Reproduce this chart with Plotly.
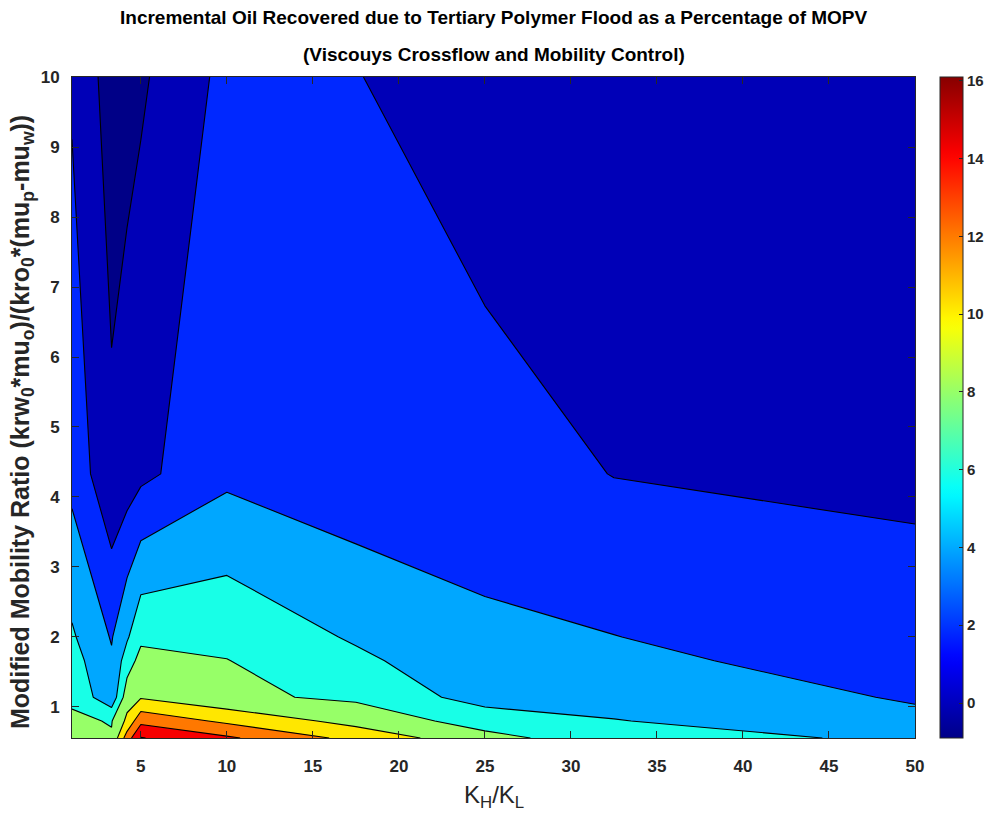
import plotly.graph_objects as go

# Grid columns: permeability contrast K_H/K_L
perm_ratio = [1, 3.3, 4.2, 5, 10, 17.5, 25, 32.5, 50]
# Grid rows: modified mobility ratio
mobility_ratio = [0.557, 0.8, 1.14, 1.66, 2.0, 4.33, 10]

# Incremental oil recovered (% of MOPV), one list per mobility-ratio row
recovery_m0557 = [8.5, 8.17, 13.0, 16.1, 14.3, 11.4, 8.6, 6.9, 5.6]
recovery_m0800 = [8.3, 7.9, 10.45, 13.45, 11.6, 9.31, 7.17, 6.1, 4.35]
recovery_m1140 = [7.7, 4.53, 9.15, 9.8, 8.4, 7.64, 5.17, 5.0, 3.85]
recovery_m1660 = [6.8, 4.26, 7.0, 8.7, 8.05, 6.4, 4.6, 4.4, 3.2]
recovery_m2000 = [6.25, 3.86, 5.76, 7.56, 7.48, 5.77, 4.35, 4.03, 2.9]
recovery_m4330 = [3.39, 0.42, 0.9, 1.53, 3.56, 2.67, 2.94, 1.95, 1.6]
recovery_m1000 = [1.74, -0.9, -0.55, -0.29, 2.57, 2.08, 0.72, 0.8, 1.0]

x_ticks = [5, 10, 15, 20, 25, 30, 35, 40, 45, 50]
y_ticks = [1, 2, 3, 4, 5, 6, 7, 8, 9, 10]
cbar_ticks = [0, 2, 4, 6, 8, 10, 12, 14, 16]

level_start, level_end, level_step = 0, 16, 2

recovery = [recovery_m0557, recovery_m0800, recovery_m1140, recovery_m1660,
            recovery_m2000, recovery_m4330, recovery_m1000]
zmin = min(min(r) for r in recovery)
zmax = max(max(r) for r in recovery)


def jet(n):
    """MATLAB-style jet colormap with n entries, as (r, g, b) in 0..255."""
    out = []
    for i in range(n):
        t = (i + 0.5) / n
        r = min(max(min(4 * t - 1.5, -4 * t + 4.5), 0), 1)
        g = min(max(min(4 * t - 0.5, -4 * t + 3.5), 0), 1)
        b = min(max(min(4 * t + 0.5, -4 * t + 2.5), 0), 1)
        out.append((round(r * 255), round(g * 255), round(b * 255)))
    return out


JET = jet(64)


def rgb(c):
    return "rgb(%d,%d,%d)" % c


# continuous colour bar
jet_scale = [[i / 63, rgb(c)] for i, c in enumerate(JET)]

# each filled band takes the colormap entry of its lower bound
levels = list(range(level_start, level_end + 1, level_step))
band_floor = [zmin] + levels


def cmap_index(v):
    k = int((v - zmin) / (zmax - zmin) * 64)
    return min(max(k, 0), 63)


band_colors = [JET[cmap_index(v)] for v in band_floor]
nb = len(band_colors) - 1
band_scale = [[k / nb, rgb(c)] for k, c in enumerate(band_colors)]

AX_COLOR = "#262626"
NARROW = "Liberation Sans Narrow, Arial Narrow, Liberation Sans, Arial, sans-serif"
REGULAR = "Liberation Sans, Arial, sans-serif"

fig = go.Figure()

fig.add_trace(go.Contour(
    x=perm_ratio,
    y=mobility_ratio,
    z=recovery,
    autocontour=False,
    contours=dict(start=level_start, end=level_end, size=level_step,
                  coloring="fill", showlines=True),
    line=dict(color="black", width=1.1, smoothing=0),
    colorscale=band_scale,
    showscale=False,
    hoverinfo="skip",
))

# invisible carrier for the continuous colour bar
fig.add_trace(go.Scatter(
    x=[perm_ratio[0], perm_ratio[0]],
    y=[mobility_ratio[0], mobility_ratio[0]],
    mode="markers",
    marker=dict(size=0, opacity=0, color=[zmin, zmax], colorscale=jet_scale,
                cmin=zmin, cmax=zmax, showscale=True,
                colorbar=dict(
                    x=1.0297, xanchor="left", xpad=0, ypad=0,
                    y=0.5, yanchor="middle",
                    len=1, lenmode="fraction", thickness=23,
                    outlinewidth=1, outlinecolor=AX_COLOR,
                    tickvals=cbar_ticks, ticks="inside", ticklen=4,
                    tickcolor=AX_COLOR,
                    tickfont=dict(family=REGULAR, size=15, color=AX_COLOR,
                                  weight="bold"),
                )),
    hoverinfo="skip",
    showlegend=False,
))

axis_common = dict(
    showgrid=False, zeroline=False, showline=True, linecolor=AX_COLOR,
    linewidth=1, mirror="allticks", ticks="inside", ticklen=7,
    tickcolor=AX_COLOR,
    tickfont=dict(family=REGULAR, size=17, color=AX_COLOR, weight="bold"),
)

fig.update_layout(
    width=991, height=821,
    margin=dict(l=72, r=76, t=77, b=83, autoexpand=False),
    paper_bgcolor="white", plot_bgcolor="white",
    xaxis=dict(range=[1, 50], tickvals=x_ticks, ticklabelstandoff=13,
               **axis_common),
    yaxis=dict(range=[mobility_ratio[0], 10], tickvals=y_ticks,
               ticklabelstandoff=8, **axis_common),
    annotations=[
        dict(text="Incremental Oil Recovered due to Tertiary Polymer Flood as a Percentage of MOPV",
             xref="paper", yref="paper", x=0.5, y=1.0893, xanchor="center",
             yanchor="middle", showarrow=False,
             font=dict(family=NARROW, size=19, color="black", weight="bold")),
        dict(text="(Viscouys Crossflow and Mobility Control)",
             xref="paper", yref="paper", x=0.5, y=1.0333, xanchor="center",
             yanchor="middle", showarrow=False,
             font=dict(family=NARROW, size=19, color="black", weight="bold")),
        dict(text="K<sub>H</sub>/K<sub>L</sub>",
             xref="paper", yref="paper", x=0.5, y=-0.089, xanchor="center",
             yanchor="middle", showarrow=False,
             font=dict(family=NARROW, size=24, color=AX_COLOR)),
        dict(text="Modified Mobility Ratio (krw<sub>0</sub>*mu<sub>o</sub>)/(kro<sub>0</sub>*(mu<sub>p</sub>-mu<sub>w</sub>))",
             xref="paper", yref="paper", x=-0.0593, y=0.478, xanchor="center",
             yanchor="middle", textangle=-90, showarrow=False,
             font=dict(family=REGULAR, size=25, color=AX_COLOR, weight="bold")),
    ],
)

fig.write_html("out.html")
